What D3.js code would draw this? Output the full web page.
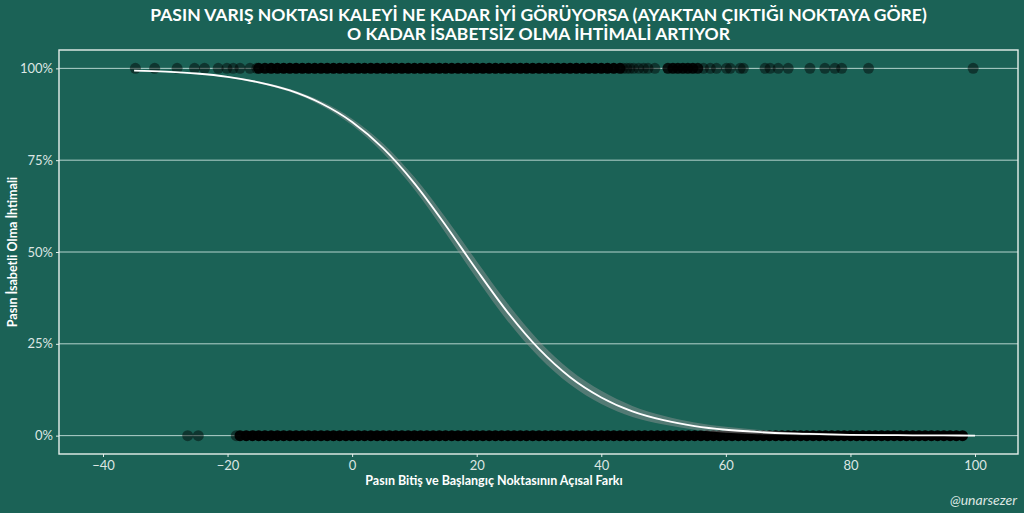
<!DOCTYPE html>
<html lang="tr">
<head>
  <meta charset="UTF-8">
  <title>Pas isabet ihtimali</title>
  <script src="https://cdn.jsdelivr.net/npm/d3@7"></script>
  <style>
    html, body { margin: 0; padding: 0; background: #1b6256; }
    svg { display: block; font-family: Lato, "Open Sans", sans-serif; }
  </style>
</head>
<body>
<script>
  // passes that missed (y = 1) - single points
  const topX = [-34.8, -31.7, -28.1, -25.3, -23.7, -21.5, -20.1, -19.1, -18.0, -16.4, -15.3,
    43.5, 44.1, 44.6, 45.2, 46.0, 46.8, 47.5, 48.6,
    56.4, 57.5, 58.5, 60.1, 60.7, 62.3, 62.8, 66.3, 67.1, 68.4, 70.0, 73.5, 75.9, 77.5, 78.6, 82.9, 99.7];
  // dense runs of missed passes: position and how many points pile up there
  const topDenseX = [-15, -14, -13, -12, -11, -10, -9, -8, -7, -6, -5, -4, -3, -2, -1, 0, 1, 2, 3, 4, 5,
    6, 7, 8, 9, 10, 11, 12, 13, 14, 15, 16, 17, 18, 19, 20, 21, 22, 23, 24, 25, 26, 27, 28, 29, 30,
    31, 32, 33, 34, 35, 36, 37, 38, 39, 40, 41, 42, 43,
    50.7, 51.5, 52.3, 53.1, 53.9, 54.7, 55.5];
  const topDenseN = [4, 5, 6, 6, 7, 8, 8, 8, 8, 8, 8, 8, 8, 8, 8, 8, 8, 8, 8, 8, 8,
    8, 8, 8, 8, 8, 8, 8, 8, 8, 8, 8, 8, 8, 8, 8, 8, 8, 8, 8, 8, 8, 8, 8, 8, 8,
    8, 8, 8, 8, 8, 8, 8, 8, 8, 7, 7, 6, 5,
    3, 4, 4, 4, 4, 4, 3];

  // passes that were accurate (y = 0)
  const bottomX = [-26.4, -24.7, -18.6];
  const bottomDenseX = [-18, -17, -16, -15, -14, -13, -12, -11, -10, -9, -8, -7, -6, -5, -4, -3, -2, -1,
    0, 1, 2, 3, 4, 5, 6, 7, 8, 9, 10, 11, 12, 13, 14, 15, 16, 17, 18, 19, 20, 21, 22, 23, 24, 25,
    26, 27, 28, 29, 30, 31, 32, 33, 34, 35, 36, 37, 38, 39, 40, 41, 42, 43, 44, 45, 46, 47, 48, 49,
    50, 51, 52, 53, 54, 55, 56, 57, 58, 59, 60, 61, 62, 63, 64, 65, 66, 67, 68, 69, 70, 71, 72, 73,
    74, 75, 76, 77, 78, 79, 80, 81, 82, 83, 84, 85, 86, 87, 88, 89, 90, 91, 92, 93, 94, 95, 96, 97, 98];
  const bottomDenseN = [5, 7, 8, 8, 8, 8, 8, 8, 8, 8, 8, 8, 8, 8, 8, 8, 8, 8,
    8, 8, 8, 8, 8, 8, 8, 8, 8, 8, 8, 8, 8, 8, 8, 8, 8, 8, 8, 8, 8, 8, 8, 8, 8, 8,
    8, 8, 8, 8, 8, 8, 8, 8, 8, 8, 8, 8, 8, 8, 8, 8, 8, 8, 8, 8, 8, 8, 8, 8,
    8, 8, 8, 8, 8, 8, 8, 8, 8, 8, 8, 8, 8, 8, 8, 8, 8, 8, 8, 8, 8, 8, 8, 8,
    8, 8, 8, 8, 8, 8, 7, 7, 7, 7, 7, 7, 7, 7, 7, 7, 7, 7, 7, 7, 7, 7, 7, 7, 6, 6, 5];

  // fitted logistic curve, with its band half-width
  const fitX = [-35, -30, -25, -20, -15, -10, -5, 0, 5, 10, 15, 20, 25, 30, 35, 40, 45, 50, 55, 60,
    65, 70, 75, 80, 85, 90, 95, 100];
  const fitP = [0.994, 0.991, 0.986, 0.977, 0.962, 0.940, 0.905, 0.854, 0.782, 0.687, 0.573, 0.451,
    0.335, 0.236, 0.159, 0.104, 0.066, 0.042, 0.026, 0.016, 0.010, 0.006, 0.004, 0.002, 0.0014,
    0.0009, 0.0005, 0.0003];
  const fitSe = [0.001, 0.001, 0.0015, 0.002, 0.003, 0.004, 0.006, 0.009, 0.013, 0.017, 0.021, 0.024,
    0.024, 0.022, 0.020, 0.018, 0.015, 0.012, 0.010, 0.008, 0.006, 0.004, 0.003, 0.002, 0.0015,
    0.001, 0.001, 0.001];

  const xTicks = [-40, -20, 0, 20, 40, 60, 80, 100];
  const yTicks = [0, 0.25, 0.5, 0.75, 1];

  const titleLines = ["PASIN VARIŞ NOKTASI KALEYİ NE KADAR İYİ GÖRÜYORSA (AYAKTAN ÇIKTIĞI NOKTAYA GÖRE)",
    "O KADAR İSABETSİZ OLMA İHTİMALİ ARTIYOR"];
  const xTitle = "Pasın Bitiş ve Başlangıç Noktasının Açısal Farkı";
  const yTitle = "Pasın İsabetli Olma İhtimali";
  const credit = "@unarsezer";

  const width = 1024, height = 513;
  const margin = {top: 50, right: 6, bottom: 59, left: 59};
  const textColor = "#dde6e3";
  const pointAlpha = 0.45;

  const svg = d3.select("body").append("svg")
    .attr("width", width)
    .attr("height", height);

  svg.append("rect").attr("width", width).attr("height", height).attr("fill", "#1b6256");

  const x = d3.scaleLinear().domain([-47.06, 106.9]).range([margin.left, width - margin.right]);
  const y = d3.scaleLinear().domain([-0.05, 1.05]).range([height - margin.bottom, margin.top]);

  // grid
  svg.append("g")
    .selectAll("line")
    .data(yTicks)
    .enter().append("line")
    .attr("x1", margin.left).attr("x2", width - margin.right)
    .attr("y1", d => y(d)).attr("y2", d => y(d))
    .attr("stroke", "#b5d3cd")
    .attr("stroke-width", 1);

  // points
  const pts = svg.append("g");
  function drawPoints(xs, yv, ns) {
    pts.selectAll(null)
      .data(xs.map((v, i) => ({x: v, n: ns ? ns[i] : 1})))
      .enter().append("circle")
      .attr("cx", d => x(d.x))
      .attr("cy", y(yv))
      .attr("r", 5.5)
      .attr("fill", "#000")
      .attr("fill-opacity", d => 1 - Math.pow(1 - pointAlpha, d.n));
  }
  drawPoints(topDenseX, 1, topDenseN);
  drawPoints(topX, 1);
  drawPoints(bottomDenseX, 0, bottomDenseN);
  drawPoints(bottomX, 0);

  // fit band and line
  const fit = fitX.map((v, i) => ({x: v, p: fitP[i], se: fitSe[i]}));
  svg.append("path")
    .datum(fit)
    .attr("d", d3.area()
      .x(d => x(d.x))
      .y0(d => y(Math.max(0, d.p - d.se)))
      .y1(d => y(Math.min(1, d.p + d.se)))
      .curve(d3.curveMonotoneX))
    .attr("fill", "#999999")
    .attr("fill-opacity", 0.45);

  svg.append("path")
    .datum(fit)
    .attr("d", d3.line().x(d => x(d.x)).y(d => y(d.p)).curve(d3.curveMonotoneX))
    .attr("fill", "none")
    .attr("stroke", "#ffffff")
    .attr("stroke-width", 1.8);

  // panel border
  svg.append("rect")
    .attr("x", margin.left).attr("y", margin.top)
    .attr("width", width - margin.left - margin.right)
    .attr("height", height - margin.top - margin.bottom)
    .attr("fill", "none")
    .attr("stroke", "#e6efec")
    .attr("stroke-width", 1.4);

  // axes
  const xAxis = svg.append("g")
    .attr("transform", `translate(0,${height - margin.bottom})`)
    .call(d3.axisBottom(x).tickValues(xTicks).tickSize(3).tickPadding(4).tickFormat(d3.format("d")));
  const yAxis = svg.append("g")
    .attr("transform", `translate(${margin.left},0)`)
    .call(d3.axisLeft(y).tickValues(yTicks).tickSize(3).tickPadding(3).tickFormat(d3.format(".0%")));
  [xAxis, yAxis].forEach(g => {
    g.select(".domain").remove();
    g.selectAll(".tick line").attr("stroke", "#e6efec");
    g.selectAll("text").attr("fill", textColor).attr("font-size", 13)
      .attr("font-family", "Lato, sans-serif");
  });

  // titles
  svg.append("g").selectAll("text")
    .data(titleLines)
    .enter().append("text")
    .attr("x", (margin.left + width - margin.right) / 2)
    .attr("y", (d, i) => 21 + i * 19)
    .attr("text-anchor", "middle")
    .attr("fill", "#ffffff")
    .attr("font-weight", "bold")
    .attr("font-size", 17.5)
    .text(d => d);

  svg.append("text")
    .attr("x", 494).attr("y", 485)
    .attr("text-anchor", "middle")
    .attr("fill", "#ffffff")
    .attr("font-weight", "bold")
    .attr("font-size", 12.5)
    .text(xTitle);

  svg.append("text")
    .attr("transform", `translate(17,${(margin.top + height - margin.bottom) / 2}) rotate(-90)`)
    .attr("text-anchor", "middle")
    .attr("fill", "#ffffff")
    .attr("font-weight", "bold")
    .attr("font-size", 12.5)
    .text(yTitle);

  svg.append("text")
    .attr("x", 1017).attr("y", 505)
    .attr("text-anchor", "end")
    .attr("fill", textColor)
    .attr("font-style", "italic")
    .attr("font-size", 14)
    .text(credit);
</script>
</body>
</html>
